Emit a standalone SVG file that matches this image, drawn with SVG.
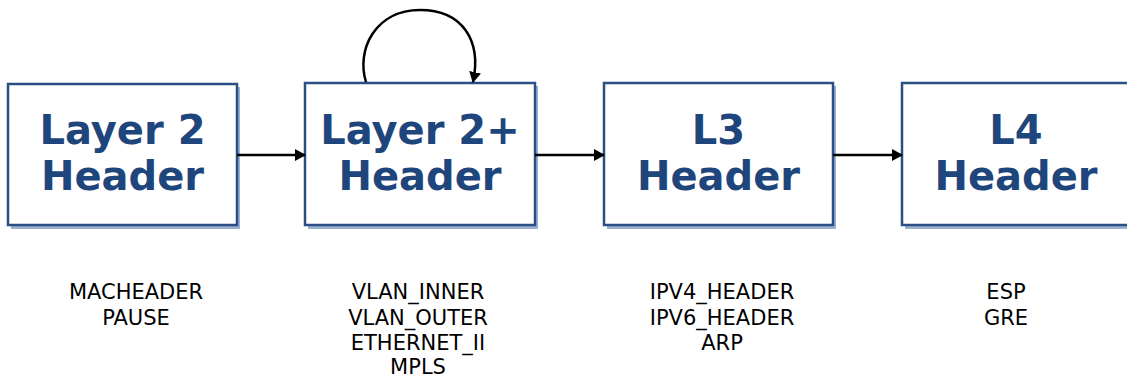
<svg xmlns="http://www.w3.org/2000/svg" width="1127" height="378" viewBox="0 0 1127 378">
<style>
.shadow{fill:#9bb1d2;}
.box{fill:#fff;stroke:#2b4f85;stroke-width:2.5;}
.title{font-family:"DejaVu Sans",Verdana,sans-serif;font-weight:bold;font-size:40px;fill:#1f467c;text-anchor:middle;}
.list{font-family:"DejaVu Sans",Verdana,sans-serif;font-size:21px;fill:#000;text-anchor:middle;}
.conn{fill:none;stroke:#000;stroke-width:2.5;}
</style>
<defs>
<marker id="ah" markerWidth="12" markerHeight="12" refX="10" refY="6" orient="auto" markerUnits="userSpaceOnUse">
<path d="M0,0 L11,6 L0,12 Z" fill="#000"/>
</marker>
</defs>
<rect width="1127" height="378" fill="#fff"/>
<g id="node-l2">
<rect class="shadow" x="11" y="87" width="229" height="142"/>
<rect class="box" x="8" y="84" width="229" height="141"/>
<text class="title" x="122.5" y="144">Layer 2</text>
<text class="title" x="122.5" y="190">Header</text>
<text class="list" x="136" y="299">MACHEADER</text>
<text class="list" x="136" y="325">PAUSE</text>
</g>
<g id="node-l2plus">
<rect class="shadow" x="308" y="86" width="230" height="143"/>
<rect class="box" x="305" y="83" width="230" height="142"/>
<text class="title" x="420" y="144">Layer 2+</text>
<text class="title" x="420" y="190">Header</text>
<text class="list" x="418" y="299">VLAN_INNER</text>
<text class="list" x="418" y="324.5">VLAN_OUTER</text>
<text class="list" x="418" y="350">ETHERNET_II</text>
<text class="list" x="418" y="374">MPLS</text>
</g>
<g id="node-l3">
<rect class="shadow" x="607" y="86" width="229" height="143"/>
<rect class="box" x="604" y="83" width="229" height="142"/>
<text class="title" x="718.5" y="144">L3</text>
<text class="title" x="718.5" y="190">Header</text>
<text class="list" x="722" y="299">IPV4_HEADER</text>
<text class="list" x="722" y="324.5">IPV6_HEADER</text>
<text class="list" x="722" y="350">ARP</text>
</g>
<g id="node-l4">
<rect class="shadow" x="905" y="86" width="229" height="143"/>
<rect class="box" x="902" y="83" width="229" height="142"/>
<text class="title" x="1016" y="144">L4</text>
<text class="title" x="1016" y="190">Header</text>
<text class="list" x="1006" y="299">ESP</text>
<text class="list" x="1006" y="324.5">GRE</text>
</g>
<g id="connectors">
<line class="conn" x1="237" y1="155" x2="305" y2="155" marker-end="url(#ah)"/>
<line class="conn" x1="535" y1="155" x2="604" y2="155" marker-end="url(#ah)"/>
<line class="conn" x1="833" y1="155" x2="902" y2="155" marker-end="url(#ah)"/>
<path class="conn" d="M366,82 C356,50 375,10 420,10 C462,10 482,40 473,82" marker-end="url(#ah)"/>
</g>
</svg>
